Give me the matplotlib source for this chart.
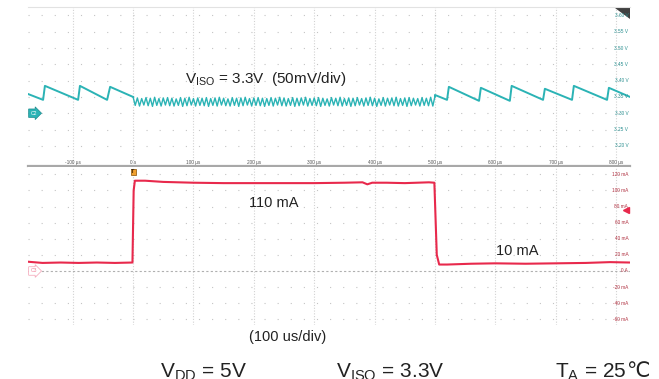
import numpy as np
import matplotlib
matplotlib.use("Agg")
import matplotlib.pyplot as plt
import matplotlib.transforms as mtransforms

plt.rcParams['font.family'] = ['Liberation Sans', 'DejaVu Sans']
plt.rcParams['mathtext.fontset'] = 'custom'
plt.rcParams['mathtext.rm'] = 'Liberation Sans'

# time axis (us)
x_ticks = [-100, 0, 100, 200, 300, 400, 500, 600, 700, 800]
x_labels = ['-100 µs', '0 s', '100 µs', '200 µs', '300 µs', '400 µs', '500 µs', '600 µs', '700 µs', '800 µs']

# V_ISO sawtooth before the load step and after it (us, V)
v_pre_t = [-174, -149, -146, -91, -88, -43, -38, 0]
v_pre_v = [3.359, 3.341, 3.384, 3.341, 3.384, 3.341, 3.381, 3.350]
v_post_t = [500, 520, 523, 573, 576, 624, 627, 679, 682, 727, 730, 785, 788, 823]
v_post_v = [3.356, 3.341, 3.381, 3.338, 3.378, 3.338, 3.384, 3.341, 3.375, 3.341, 3.384, 3.341, 3.378, 3.350]

# fast ripple during the 110 mA load (0..500 us), 70 cycles
ripple_lo = [3.324, 3.322, 3.325, 3.323, 3.321, 3.324, 3.322, 3.325, 3.323, 3.322,
             3.324, 3.321, 3.323, 3.325, 3.322, 3.324, 3.323, 3.321, 3.324, 3.322,
             3.325, 3.323, 3.322, 3.324, 3.321, 3.323, 3.325, 3.322, 3.324, 3.323,
             3.321, 3.324, 3.322, 3.325, 3.323, 3.322, 3.324, 3.321, 3.323, 3.325,
             3.322, 3.324, 3.323, 3.321, 3.324, 3.322, 3.325, 3.323, 3.322, 3.324,
             3.321, 3.323, 3.325, 3.322, 3.324, 3.323, 3.321, 3.324, 3.322, 3.325,
             3.323, 3.322, 3.324, 3.321, 3.323, 3.325, 3.322, 3.324, 3.323, 3.322]
ripple_hi = [3.347, 3.345, 3.348, 3.346, 3.349, 3.345, 3.347, 3.348, 3.346, 3.344,
             3.348, 3.346, 3.349, 3.345, 3.347, 3.346, 3.348, 3.345, 3.347, 3.349,
             3.346, 3.344, 3.348, 3.346, 3.347, 3.349, 3.345, 3.347, 3.348, 3.346,
             3.345, 3.348, 3.346, 3.349, 3.347, 3.345, 3.348, 3.346, 3.347, 3.349,
             3.345, 3.347, 3.348, 3.346, 3.344, 3.348, 3.346, 3.349, 3.345, 3.347,
             3.346, 3.348, 3.345, 3.347, 3.349, 3.346, 3.344, 3.348, 3.346, 3.347,
             3.349, 3.345, 3.347, 3.348, 3.346, 3.345, 3.348, 3.346, 3.349, 3.352]
ripple_start, ripple_end = 0, 500

# output current (us, mA)
i_t = [-174, -150, -120, -90, -60, -30, -1, 1, 3, 20, 50, 100, 150, 200, 250, 300,
       350, 380, 388, 396, 420, 450, 490, 499, 503, 507, 520, 560, 600, 650, 700, 750, 790, 823]
i_v = [11.5, 10, 10.5, 10, 10.5, 10, 10.5, 100, 112, 112, 110.5, 109.5, 109, 109, 109, 109,
       109.5, 110, 107.5, 109.5, 109.5, 109, 110, 109.5, 20, 8, 8, 9, 9.5, 9, 9.5, 10, 11, 10.5]

v_ticks = [3.60, 3.55, 3.50, 3.45, 3.40, 3.35, 3.30, 3.25, 3.20]
i_ticks = [120, 100, 80, 60, 40, 20, 0, -20, -40, -60]

teal = '#2bb3b5'
red = '#e8294c'

fig = plt.figure(figsize=(6.59, 3.79), dpi=100)
W, H = 659, 379
ax1 = fig.add_axes([28 / W, 1 - 166 / H, 602 / W, 159 / H])
ax2 = fig.add_axes([28 / W, 1 - 325 / H, 602 / W, 158 / H])

ax1.set_xlim(-174, 823)
ax2.set_xlim(-174, 823)
ax1.set_ylim(3.138, 3.626)
ax2.set_ylim(-67, 129)

for ax in (ax1, ax2):
    for s in ax.spines.values():
        s.set_visible(False)
    ax.set_xticks([])
    ax.set_yticks([])
    for t in x_ticks:
        ax.axvline(t, color='#d2d2d2', lw=0.8, ls=(0, (1, 1.5)), zorder=0)

for v in v_ticks:
    ax1.axhline(v, color='#c4c4c4', lw=0.8, ls=(0, (1, 10.8)), zorder=0)
for c in i_ticks:
    if c != 0:
        ax2.axhline(c, color='#c4c4c4', lw=0.8, ls=(0, (1, 10.8)), zorder=0)
ax2.axhline(0, color='#b0b0b0', lw=0.8, ls=(0, (2, 2)), zorder=0)

ax1.spines['bottom'].set_visible(True)
ax1.spines['bottom'].set_color('#a8a8a8')
ax1.spines['bottom'].set_linewidth(1.6)
ax1.spines['top'].set_visible(True)
ax1.spines['top'].set_color('#e2e2e2')
ax1.spines['top'].set_linewidth(0.8)

# voltage trace
n = len(ripple_hi)
rt = np.linspace(ripple_start, ripple_end, 2 * n + 1)
rv = [3.350]
for lo, hi in zip(ripple_lo, ripple_hi):
    rv += [lo, hi]
ax1.plot(v_pre_t, v_pre_v, color=teal, lw=1.4)
ax1.plot(rt, rv, color=teal, lw=1.0)
ax1.plot([ripple_end] + v_post_t, [rv[-1]] + v_post_v, color=teal, lw=1.4)

# current trace
ax2.plot(i_t, i_v, color=red, lw=1.5)

# axis labels drawn inside the screen like the scope does
tr1 = mtransforms.blended_transform_factory(ax1.transData, ax1.transAxes)
for t, lab in zip(x_ticks, x_labels):
    ax1.text(t, 0.025, lab, transform=tr1, ha='center', va='center', fontsize=3.4, color='#555555')
tr_v = mtransforms.blended_transform_factory(ax1.transAxes, ax1.transData)
for v in v_ticks:
    ax1.text(0.997, v, '%.2f V' % v, transform=tr_v, ha='right', va='center', fontsize=3.4, color='#2a8f90')
tr_i = mtransforms.blended_transform_factory(ax2.transAxes, ax2.transData)
for c in i_ticks:
    lab = '0 A' if c == 0 else '%d mA' % c
    ax2.text(0.997, c, lab, transform=tr_i, ha='right', va='center', fontsize=3.4, color='#b03040')

# channel / trigger markers
ax1.text(0.004, 3.30, 'C2', transform=tr_v, ha='left', va='center', fontsize=3.6, color='white',
         bbox=dict(boxstyle='rarrow,pad=0.35', fc=teal, ec='#1c8c8e', lw=0.5))
ax2.text(0.004, 0, 'C3', transform=tr_i, ha='left', va='center', fontsize=3.6, color='#f08098',
         bbox=dict(boxstyle='rarrow,pad=0.35', fc='white', ec='#f4a0b4', lw=0.5))
ax2.text(0, 123, 'T', ha='center', va='center', fontsize=4, color='#3a2000', fontweight='bold',
         bbox=dict(boxstyle='square,pad=0.15', fc='#f0a030', ec='#8a5000', lw=0.5))
ax2.plot([0.993], [76], marker='<', markersize=4, color=red, transform=tr_i, clip_on=False)
ax1.fill([0.975, 1.0, 1.0], [1.0, 1.0, 0.93], color='#404040', transform=ax1.transAxes)

# annotations
fig.text(185 / W, 1 - 83 / H, r'V$_{\mathrm{ISO}}$ = 3.3V  (50mV/div)', fontsize=11, color='#222222')
fig.text(249 / W, 1 - 207 / H, '110 mA', fontsize=10.5, color='#222222')
fig.text(496 / W, 1 - 255 / H, '10 mA', fontsize=10.5, color='#222222')
fig.text(249 / W, 1 - 341 / H, '(100 us/div)', fontsize=10.5, color='#222222')
fig.text(160 / W, 1 - 377 / H, r'V$_{\mathrm{DD}}$ = 5V', fontsize=15, color='#222222')
fig.text(336 / W, 1 - 377 / H, r'V$_{\mathrm{ISO}}$ = 3.3V', fontsize=15, color='#222222')
ta = fig.text(555 / W, 1 - 377 / H, r'T$_{\mathrm{A}}$ = 25', fontsize=15, color='#222222')
fig.canvas.draw()
bb = ta.get_window_extent(renderer=fig.canvas.get_renderer())
fig.text(bb.x1 / W, 1 - 377 / H, '℃', fontsize=15, color='#222222', family='DejaVu Sans')

fig.savefig('out.png', dpi=100)
